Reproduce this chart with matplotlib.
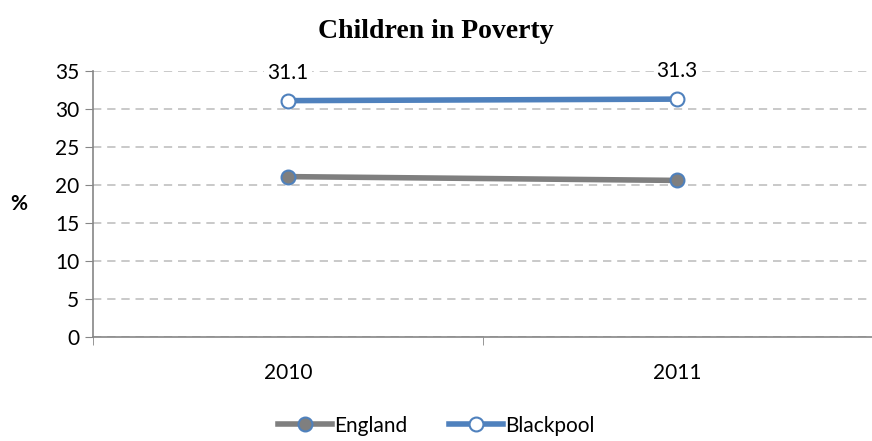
import matplotlib
matplotlib.use('Agg')
import matplotlib.pyplot as plt

years = ['2010', '2011']
england = [21.1, 20.6]
blackpool = [31.1, 31.3]
yticks = [0, 5, 10, 15, 20, 25, 30, 35]

plt.rcParams['font.family'] = ['Lato', 'DejaVu Sans']

fig = plt.figure(figsize=(8.72, 4.41), dpi=100)
ax = fig.add_axes([0.1067, 0.236, 0.8933, 0.603])

x = range(len(years))
ax.plot(x, england, color='#7f7f7f', lw=4, marker='o', ms=10,
        mfc='#7f7f7f', mec='#4f81bd', mew=1.5, label='England', zorder=3)
ax.plot(x, blackpool, color='#4f81bd', lw=4, marker='o', ms=10,
        mfc='white', mec='#4f81bd', mew=1.5, label='Blackpool', zorder=3)

for i, v in enumerate(blackpool):
    ax.annotate(f'{v}', (i, v), xytext=(0, 13), textcoords='offset points',
                ha='center', va='bottom', fontsize=15,
                bbox=dict(boxstyle='square,pad=0.15', fc='white', ec='none'))

ax.set_ylim(0, 35)
ax.set_xlim(-0.5, 1.47)
ax.set_yticks(yticks)
ax.set_xticks(list(x))
ax.set_xticklabels(years)
ax.set_xticks([-0.5, 0.5, 1.5], minor=True)
ax.tick_params(axis='x', which='major', length=0, labelsize=15, pad=19)
ax.tick_params(axis='x', which='minor', length=6, color='#868686', direction='out')
ax.tick_params(axis='y', length=6, color='#868686', labelsize=15, pad=4)

ax.grid(axis='y', color='#c0c0c0', ls=(0, (5, 3.5)), lw=1.2)
ax.set_axisbelow(True)
for s in ['top', 'right']:
    ax.spines[s].set_visible(False)
for s in ['left', 'bottom']:
    ax.spines[s].set_color('#868686')
    ax.spines[s].set_linewidth(1.2)

ax.set_ylabel('%', rotation=0, fontsize=15, fontweight='bold', labelpad=26, va='center')

fig.text(0.5, 0.928, 'Children in Poverty', ha='center', va='center',
         fontsize=20, fontweight='bold', family=['Liberation Serif', 'DejaVu Serif'])

fig.legend(loc='center', bbox_to_anchor=(0.5, 0.035), ncol=2, frameon=False,
           fontsize=15, handlelength=2.6, columnspacing=2.0, handletextpad=0.1)

fig.savefig('out.png', dpi=100)
